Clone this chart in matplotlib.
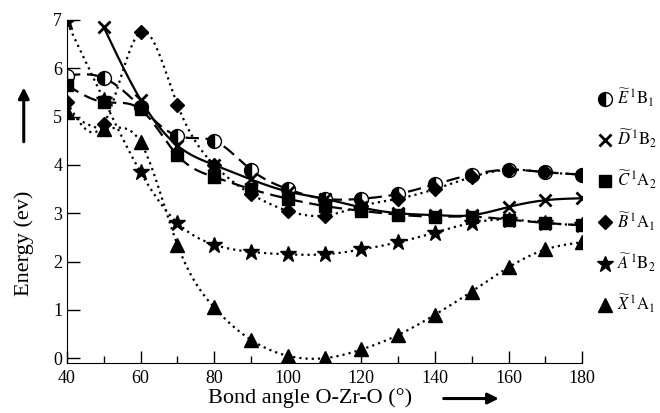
import numpy as np
import matplotlib
matplotlib.use("Agg")
import matplotlib.pyplot as plt
from matplotlib.lines import Line2D

plt.rcParams['font.family'] = ['Liberation Serif', 'DejaVu Serif']
plt.rcParams['mathtext.fontset'] = 'stix'

# bond angle (degrees)
angles = [40, 50, 60, 70, 80, 90, 100, 110, 120, 130, 140, 150, 160, 170, 180]
angles_d = angles[1:]

# energies (eV)
e_b1 = [5.85, 5.8, 5.2, 4.6, 4.5, 3.9, 3.5, 3.3, 3.3, 3.4, 3.6, 3.8, 3.9, 3.85, 3.8]
d_b2 = [6.85, 5.35, 4.4, 4.0, 3.7, 3.45, 3.3, 3.12, 3.0, 2.96, 2.96, 3.13, 3.27, 3.31]
c_a2 = [5.65, 5.3, 5.15, 4.2, 3.75, 3.5, 3.3, 3.15, 3.05, 2.97, 2.93, 2.93, 2.87, 2.8, 2.75]
b_a1 = [5.3, 4.85, 6.75, 5.25, 4.0, 3.4, 3.05, 2.95, 3.15, 3.3, 3.5, 3.75, 3.9, 3.85, 3.8]
a_b2 = [6.95, 5.35, 3.85, 2.8, 2.35, 2.2, 2.15, 2.15, 2.25, 2.4, 2.6, 2.8, 2.87, 2.8, 2.75]
x_a1 = [5.1, 4.75, 4.47, 2.35, 1.05, 0.38, 0.05, 0.0, 0.18, 0.48, 0.9, 1.38, 1.88, 2.25, 2.4]

labels = [r'$\widetilde{E}\,^{1}\mathrm{B}_{1}$', r'$\widetilde{D}\,^{1}\mathrm{B}_{2}$',
          r'$\widetilde{C}\,^{1}\mathrm{A}_{2}$', r'$\widetilde{B}\,^{1}\mathrm{A}_{1}$',
          r'$\widetilde{A}\,^{1}\mathrm{B}_{2}$', r'$\widetilde{X}\,^{1}\mathrm{A}_{1}$']


def natural_spline(x, y, n=300):
    """Natural cubic spline through the points, for the smooth connecting lines."""
    x = np.asarray(x, float)
    y = np.asarray(y, float)
    m = len(x)
    h = np.diff(x)
    A = np.zeros((m, m))
    r = np.zeros(m)
    A[0, 0] = A[-1, -1] = 1
    for i in range(1, m - 1):
        A[i, i - 1] = h[i - 1]
        A[i, i] = 2 * (h[i - 1] + h[i])
        A[i, i + 1] = h[i]
        r[i] = 3 * ((y[i + 1] - y[i]) / h[i] - (y[i] - y[i - 1]) / h[i - 1])
    c = np.linalg.solve(A, r)
    b = (y[1:] - y[:-1]) / h - h * (2 * c[:-1] + c[1:]) / 3
    d = (c[1:] - c[:-1]) / (3 * h)
    xs = np.linspace(x[0], x[-1], n)
    idx = np.clip(np.searchsorted(x, xs) - 1, 0, m - 2)
    dx = xs - x[idx]
    ys = y[idx] + b[idx] * dx + c[idx] * dx ** 2 + d[idx] * dx ** 3
    return xs, ys


series = [
    (angles, e_b1, (0, (6, 3)), dict(marker='o', fillstyle='left', markerfacecoloralt='white', markersize=10)),
    (angles_d, d_b2, '-', dict(marker='x', markersize=9, markeredgewidth=2)),
    (angles, c_a2, (0, (6, 3)), dict(marker='s', markersize=9)),
    (angles, b_a1, (0, (1, 1.8)), dict(marker='D', markersize=7.5)),
    (angles, a_b2, (0, (1, 1.8)), dict(marker='*', markersize=12)),
    (angles, x_a1, (0, (1, 1.8)), dict(marker='^', markersize=10)),
]

fig = plt.figure(figsize=(6.6, 4.13), dpi=100)
ax = fig.add_axes([0.1015, 0.121, 0.7805, 0.8306])

handles = []
for (xv, yv, ls, mk), lab in zip(series, labels):
    xs, ys = natural_spline(xv, yv)
    ax.plot(xs, ys, color='k', lw=1.6, linestyle=ls)
    ax.plot(xv, yv, linestyle='none', color='k', markeredgecolor='k', **mk)
    handles.append(Line2D([], [], linestyle='none', color='k', markeredgecolor='k', label=lab, **mk))

ax.set_xlim(40, 180)
ax.set_ylim(-0.1, 7)
ax.spines['top'].set_visible(False)
ax.spines['right'].set_visible(False)
ax.spines['left'].set_bounds(-0.1, 7)
ax.set_xticks(range(40, 181, 20))
ax.set_xticks(range(50, 180, 20), minor=True)
ax.set_yticks(range(0, 8))
ax.tick_params(axis='x', direction='in', length=9, width=1, labelsize=13, pad=5)
ax.tick_params(axis='x', which='minor', direction='in', length=5, width=1)
ax.tick_params(axis='y', direction='in', length=9, width=1, labelsize=13)
ax.tick_params(axis='y', which='minor', left=False)

# axis labels with arrows
fig.text(0.47, 0.035, 'Bond angle O-Zr-O (°)', ha='center', va='center', fontsize=16)
ax.annotate('', xy=(0.76, 0.035), xytext=(0.668, 0.035), xycoords='figure fraction',
            arrowprops=dict(arrowstyle='-|>', color='k', lw=2.2, mutation_scale=16))
fig.text(0.036, 0.41, 'Energy (ev)', ha='center', va='center', rotation=90, fontsize=16)
ax.annotate('', xy=(0.036, 0.795), xytext=(0.036, 0.65), xycoords='figure fraction',
            arrowprops=dict(arrowstyle='-|>', color='k', lw=2.2, mutation_scale=16))

fig.legend(handles=handles, loc='upper left', bbox_to_anchor=(0.905, 0.79), frameon=False,
           fontsize=12, handlelength=0.9, handletextpad=0.3, labelspacing=1.15, borderpad=0,
           borderaxespad=0)

fig.savefig('out.png', dpi=100)
